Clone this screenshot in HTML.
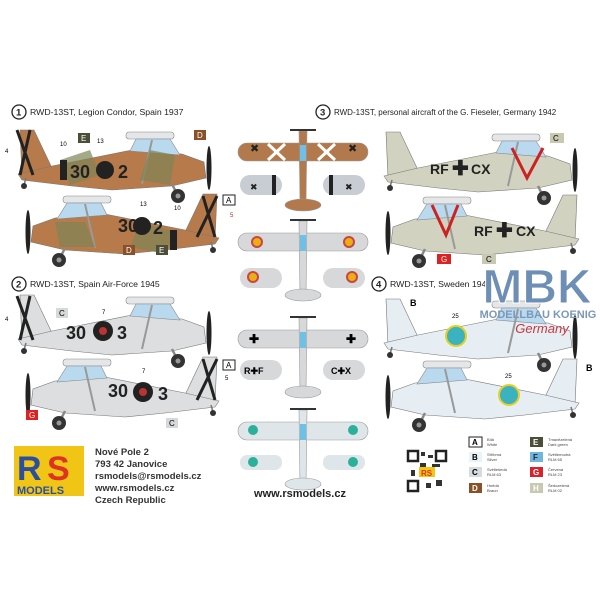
<!DOCTYPE html>
<html><head><meta charset="utf-8"><style>
html,body{margin:0;padding:0;background:#fff}
svg{display:block}
text{font-family:"Liberation Sans",Arial,sans-serif}
</style></head><body>
<svg width="600" height="600" viewBox="0 0 600 600" xmlns="http://www.w3.org/2000/svg">
<defs>
<symbol id="sp" viewBox="0 0 200 75" overflow="visible">
  <path d="M8,2 L22,2 L40,40 L10,48 Z" fill="currentColor" stroke="#777" stroke-width="0.6"/>
  <path d="M6,46 L40,38 L120,22 L170,26 L192,34 L194,50 L160,58 L100,62 L60,58 L10,52 Z" fill="currentColor" stroke="#777" stroke-width="0.6"/>
  <rect x="114" y="4" width="48" height="7" rx="3" fill="#e4e6e8" stroke="#888" stroke-width="0.6"/>
  <path d="M118,23 L124,11 L158,11 L168,27 Z" fill="#b9d9ef" stroke="#888" stroke-width="0.6"/>
  <line x1="140" y1="12" x2="130" y2="56" stroke="#999" stroke-width="2"/>
  <line x1="160" y1="56" x2="166" y2="68" stroke="#888" stroke-width="2.5"/>
  <circle cx="166" cy="68" r="7" fill="#333"/><circle cx="166" cy="68" r="2.5" fill="#999"/>
  <line x1="14" y1="50" x2="12" y2="57" stroke="#777" stroke-width="1.5"/>
  <circle cx="12" cy="58" r="3" fill="#333"/>
  <ellipse cx="197" cy="40" rx="2.5" ry="22" fill="#222"/>
</symbol>
<symbol id="tv" viewBox="0 0 130 90" overflow="visible">
  <rect x="0" y="18" width="130" height="18" rx="9" fill="currentColor" stroke="#999" stroke-width="0.6"/>
  <path d="M61,6 L69,6 L68,80 L62,80 Z" fill="currentColor" stroke="#999" stroke-width="0.6"/>
  <ellipse cx="65" cy="80" rx="18" ry="6" fill="currentColor" stroke="#999" stroke-width="0.6"/>
  <rect x="62" y="20" width="6" height="16" fill="#6fc0e6"/>
  <line x1="52" y1="5" x2="78" y2="5" stroke="#333" stroke-width="2"/>
</symbol>
</defs>

<!-- headers -->
<g font-size="8.7" fill="#222">
<circle cx="19" cy="112" r="7" fill="none" stroke="#222" stroke-width="1.3"/><text x="16" y="115.5" font-weight="bold" font-size="9.5">1</text>
<text x="30" y="115">RWD-13ST, Legion Condor, Spain 1937</text>
<circle cx="19" cy="284" r="7" fill="none" stroke="#222" stroke-width="1.3"/><text x="16" y="287.5" font-weight="bold" font-size="9.5">2</text>
<text x="30" y="287">RWD-13ST, Spain Air-Force 1945</text>
<circle cx="323" cy="112" r="7" fill="none" stroke="#222" stroke-width="1.3"/><text x="320" y="115.5" font-weight="bold" font-size="9.5">3</text>
<text x="334" y="115" font-size="8">RWD-13ST, personal aircraft of the G. Fieseler, Germany 1942</text>
<circle cx="379" cy="284" r="7" fill="none" stroke="#222" stroke-width="1.3"/><text x="376" y="287.5" font-weight="bold" font-size="9.5">4</text>
<text x="390" y="287">RWD-13ST, Sweden 1944</text>
</g>

<!-- plane 1 -->
<use href="#sp" x="12" y="128" width="200" height="75" style="color:#b77a4a"/>
<path d="M60,160 L90,150 L100,175 L70,185Z M150,150 L175,155 L170,185 L140,180Z" fill="#7d8456" opacity="0.7"/>
<rect x="60" y="160" width="7" height="20" fill="#222"/>
<path d="M17,130 L33,175 M30,130 L20,175" stroke="#222" stroke-width="3"/>
<text x="70" y="178" font-size="18" font-weight="bold" fill="#222">30</text><circle cx="105" cy="170" r="9" fill="#222"/><text x="118" y="178" font-size="18" font-weight="bold" fill="#222">2</text>
<rect x="78" y="133" width="12" height="10" fill="#4b4f38"/><text x="81" y="141" font-size="8" fill="#fff">E</text>
<rect x="194" y="130" width="12" height="10" fill="#8a5128"/><text x="197" y="138" font-size="8" fill="#fff">D</text>
<text x="5" y="153" font-size="6">4</text><text x="60" y="146" font-size="6">10</text><text x="97" y="143" font-size="6">13</text>

<g transform="translate(225,192) scale(-1,1)"><use href="#sp" x="0" y="0" width="200" height="75" style="color:#b77a4a"/>
<path d="M50,40 L85,30 L95,55 L60,62Z M140,30 L170,30 L165,55 L130,55Z" fill="#7d8456" opacity="0.7"/>
<rect x="48" y="38" width="7" height="20" fill="#222"/>
<path d="M8,4 L28,45 M22,4 L10,45" stroke="#222" stroke-width="3"/></g>
<text x="118" y="232" font-size="18" font-weight="bold" fill="#222">30</text><circle cx="142" cy="226" r="9" fill="#222"/><text x="153" y="234" font-size="18" font-weight="bold" fill="#222">2</text>
<rect x="123" y="245" width="12" height="10" fill="#8a5128"/><text x="126" y="253" font-size="8" fill="#fff">D</text>
<rect x="156" y="245" width="12" height="10" fill="#4b4f38"/><text x="159" y="253" font-size="8" fill="#fff">E</text>
<rect x="223" y="195" width="12" height="10" fill="#fff" stroke="#222"/><text x="226" y="203" font-size="8">A</text>
<text x="140" y="206" font-size="6">13</text><text x="174" y="210" font-size="6">10</text><text x="230" y="217" font-size="6" fill="#a33">5</text>

<!-- plane 2 -->
<use href="#sp" x="12" y="293" width="200" height="75" style="color:#dcdedf"/>
<path d="M17,296 L33,340 M30,296 L20,340" stroke="#222" stroke-width="3"/>
<text x="66" y="339" font-size="18" font-weight="bold" fill="#222">30</text><circle cx="103" cy="331" r="10" fill="#222"/><circle cx="103" cy="331" r="4" fill="#b33"/><text x="117" y="339" font-size="18" font-weight="bold" fill="#222">3</text>
<rect x="56" y="308" width="12" height="10" fill="#d6d9da"/><text x="59" y="316" font-size="8">C</text>
<text x="5" y="321" font-size="6">4</text><text x="102" y="314" font-size="6">7</text>
<g transform="translate(225,355) scale(-1,1)"><use href="#sp" x="0" y="0" width="200" height="75" style="color:#dcdedf"/>
<path d="M8,4 L28,45 M22,4 L10,45" stroke="#222" stroke-width="3"/></g>
<text x="108" y="397" font-size="18" font-weight="bold" fill="#222">30</text><circle cx="143" cy="392" r="10" fill="#222"/><circle cx="143" cy="392" r="4" fill="#b33"/><text x="158" y="400" font-size="18" font-weight="bold" fill="#222">3</text>
<rect x="26" y="410" width="12" height="10" fill="#d22"/><text x="29" y="418" font-size="8" fill="#fff">G</text>
<rect x="166" y="418" width="12" height="10" fill="#d6d9da"/><text x="169" y="426" font-size="8">C</text>
<rect x="223" y="360" width="12" height="10" fill="#fff" stroke="#222"/><text x="226" y="368" font-size="8">A</text>
<text x="142" y="373" font-size="6">7</text><text x="225" y="380" font-size="6">5</text>

<!-- plane 3 -->
<use href="#sp" x="378" y="130" width="200" height="75" style="color:#d2d2c0"/>
<path d="M512,148 L527,178 L543,148" stroke="#c22" stroke-width="3" fill="none"/>
<text x="430" y="174" font-size="14" font-weight="bold" fill="#222">RF</text><text x="452" y="175" font-size="20" font-weight="bold" fill="#222">✚</text><text x="471" y="174" font-size="14" font-weight="bold" fill="#222">CX</text>
<rect x="550" y="133" width="14" height="10" fill="#c9c9b2"/><text x="553" y="141" font-size="8">C</text>
<g transform="translate(585,193) scale(-1,1)"><use href="#sp" x="0" y="0" width="200" height="75" style="color:#d2d2c0"/></g>
<path d="M432,205 L446,235 L458,205" stroke="#c22" stroke-width="3" fill="none"/>
<text x="474" y="236" font-size="14" font-weight="bold" fill="#222">RF</text><text x="496" y="237" font-size="20" font-weight="bold" fill="#222">✚</text><text x="516" y="236" font-size="14" font-weight="bold" fill="#222">CX</text>
<rect x="437" y="254" width="14" height="10" fill="#d22"/><text x="441" y="262" font-size="8" fill="#fff">G</text>
<rect x="482" y="254" width="14" height="10" fill="#c9c9b2"/><text x="486" y="262" font-size="8">C</text>

<!-- plane 4 -->
<use href="#sp" x="378" y="297" width="200" height="75" style="color:#e6edf3"/>
<circle cx="456" cy="336" r="10" fill="#3ab2c0" stroke="#e8d020" stroke-width="2"/>
<text x="452" y="318" font-size="6">25</text>
<g transform="translate(585,357) scale(-1,1)"><use href="#sp" x="0" y="0" width="200" height="75" style="color:#e6edf3"/></g>
<circle cx="509" cy="395" r="10" fill="#3ab2c0" stroke="#e8d020" stroke-width="2"/>
<text x="505" y="378" font-size="6">25</text>
<text x="410" y="306" font-size="9" font-weight="bold">B</text><text x="586" y="371" font-size="9" font-weight="bold">B</text>

<!-- center top views -->
<use href="#tv" x="238" y="125" width="130" height="90" style="color:#b27a4c"/>
<rect x="240" y="175" width="42" height="20" rx="10" fill="#c7cdd3"/><rect x="323" y="175" width="42" height="20" rx="10" fill="#c7cdd3"/>
<text x="250" y="152" font-size="11" fill="#222">✖</text><text x="348" y="152" font-size="11" fill="#222">✖</text>
<path d="M268,144 L285,160 M285,144 L268,160 M318,144 L335,160 M335,144 L318,160" stroke="#fff" stroke-width="3"/>
<rect x="272" y="175" width="4" height="20" fill="#222"/><rect x="329" y="175" width="4" height="20" fill="#222"/>
<text x="250" y="190" font-size="9" fill="#222">✖</text><text x="345" y="190" font-size="9" fill="#222">✖</text>
<use href="#tv" x="238" y="215" width="130" height="90" style="color:#d6d8d9"/>
<rect x="240" y="268" width="42" height="20" rx="10" fill="#d6d8d9"/><rect x="323" y="268" width="42" height="20" rx="10" fill="#d6d8d9"/>
<circle cx="257" cy="242" r="5" fill="#e8b010" stroke="#c44" stroke-width="2"/><circle cx="349" cy="242" r="5" fill="#e8b010" stroke="#c44" stroke-width="2"/>
<circle cx="253" cy="277" r="5" fill="#e8b010" stroke="#c44" stroke-width="2"/><circle cx="352" cy="277" r="5" fill="#e8b010" stroke="#c44" stroke-width="2"/>
<use href="#tv" x="238" y="312" width="130" height="90" style="color:#d6d8d9"/>
<rect x="240" y="360" width="42" height="20" rx="10" fill="#d6d8d9"/><rect x="323" y="360" width="42" height="20" rx="10" fill="#d6d8d9"/>
<text x="249" y="343" font-size="12" font-weight="bold">✚</text><text x="346" y="343" font-size="12" font-weight="bold">✚</text>
<text x="244" y="374" font-size="9" font-weight="bold">R✚F</text><text x="331" y="374" font-size="9" font-weight="bold">C✚X</text>
<use href="#tv" x="238" y="404" width="130" height="90" style="color:#dfe6ea"/>
<rect x="240" y="455" width="42" height="15" rx="7" fill="#dfe6ea"/><rect x="323" y="455" width="42" height="15" rx="7" fill="#dfe6ea"/>
<circle cx="253" cy="430" r="5" fill="#2bb09a"/><circle cx="353" cy="430" r="5" fill="#2bb09a"/>
<circle cx="253" cy="462" r="5" fill="#2bb09a"/><circle cx="353" cy="462" r="5" fill="#2bb09a"/>
<text x="300" y="497" font-size="11" font-weight="bold" text-anchor="middle" fill="#222">www.rsmodels.cz</text>

<!-- RS logo -->
<rect x="14" y="446" width="70" height="50" fill="#f1c515"/>
<text x="17" y="480" font-size="34" font-weight="bold" fill="#2a4fa0">R</text><text x="47" y="480" font-size="34" font-weight="bold" fill="#d32">S</text>
<text x="17" y="494" font-size="11" font-weight="bold" fill="#2a4fa0">MODELS</text>
<g font-size="9.5" font-weight="bold" fill="#333">
<text x="95" y="455">Nové Pole 2</text><text x="95" y="467">793 42 Janovice</text><text x="95" y="479">rsmodels@rsmodels.cz</text><text x="95" y="491">www.rsmodels.cz</text><text x="95" y="503">Czech Republic</text></g>

<!-- QR -->
<rect x="407" y="450" width="40" height="42" fill="#fff"/>
<path d="M408,451h10v10h-10zM436,451h10v10h-10zM408,481h10v10h-10z" fill="none" stroke="#222" stroke-width="2.5"/>
<path d="M421,452h4v4h-4zM428,455h5v3h-5zM420,463h6v4h-6zM432,464h8v3h-8zM426,483h5v5h-5zM436,480h6v6h-6zM411,470h4v6h-4z" fill="#333"/>
<rect x="419" y="467" width="16" height="10" fill="#f1c515"/><text x="421" y="476" font-size="8" font-weight="bold" fill="#d32">RS</text>

<!-- legend -->
<g font-size="8" font-weight="bold">
<rect x="469" y="437" width="13" height="10" fill="#fff" stroke="#222"/><text x="472" y="445">A</text>
<rect x="469" y="452" width="13" height="10" fill="#eaf4f8"/><text x="472" y="460">B</text>
<rect x="469" y="467" width="13" height="10" fill="#d6dcde"/><text x="472" y="475">C</text>
<rect x="469" y="483" width="13" height="10" fill="#8a5128"/><text x="472" y="491" fill="#fff">D</text>
<rect x="530" y="437" width="13" height="10" fill="#4b4f38"/><text x="533" y="445" fill="#fff">E</text>
<rect x="530" y="452" width="13" height="10" fill="#6fb5dc"/><text x="533" y="460" fill="#224">F</text>
<rect x="530" y="467" width="13" height="10" fill="#d8232a"/><text x="533" y="475" fill="#fff">G</text>
<rect x="530" y="483" width="13" height="10" fill="#c9c9b2"/><text x="533" y="491" fill="#fff">H</text>
</g>
<g font-size="4" fill="#444"><text x="487" y="441">Bílá</text><text x="487" y="446">White</text><text x="487" y="456">Stříbrná</text><text x="487" y="461">Silver</text><text x="487" y="471">Světlešedá</text><text x="487" y="476">RLM 63</text><text x="487" y="487">Hnědá</text><text x="487" y="492">Braun</text>
<text x="548" y="441">Tmavězelená</text><text x="548" y="446">Dark green</text><text x="548" y="456">Světlemodrá</text><text x="548" y="461">RLM 65</text><text x="548" y="471">Červená</text><text x="548" y="476">RLM 23</text><text x="548" y="487">Šedozelená</text><text x="548" y="492">RLM 02</text></g>

<!-- MBK -->
<text x="537" y="303" font-size="48" font-family="Liberation Serif,serif" font-weight="bold" fill="#6d8fb6" stroke="#fff" stroke-width="1" text-anchor="middle">MBK</text>
<text x="538" y="318" font-size="11" font-family="Liberation Serif,serif" font-weight="bold" fill="#7d97b8" text-anchor="middle">MODELLBAU KOENIG</text>
<text x="542" y="333" font-size="13" font-style="italic" font-family="Liberation Serif,serif" fill="#c23a3f" text-anchor="middle">Germany</text>
</svg>
</body></html>
